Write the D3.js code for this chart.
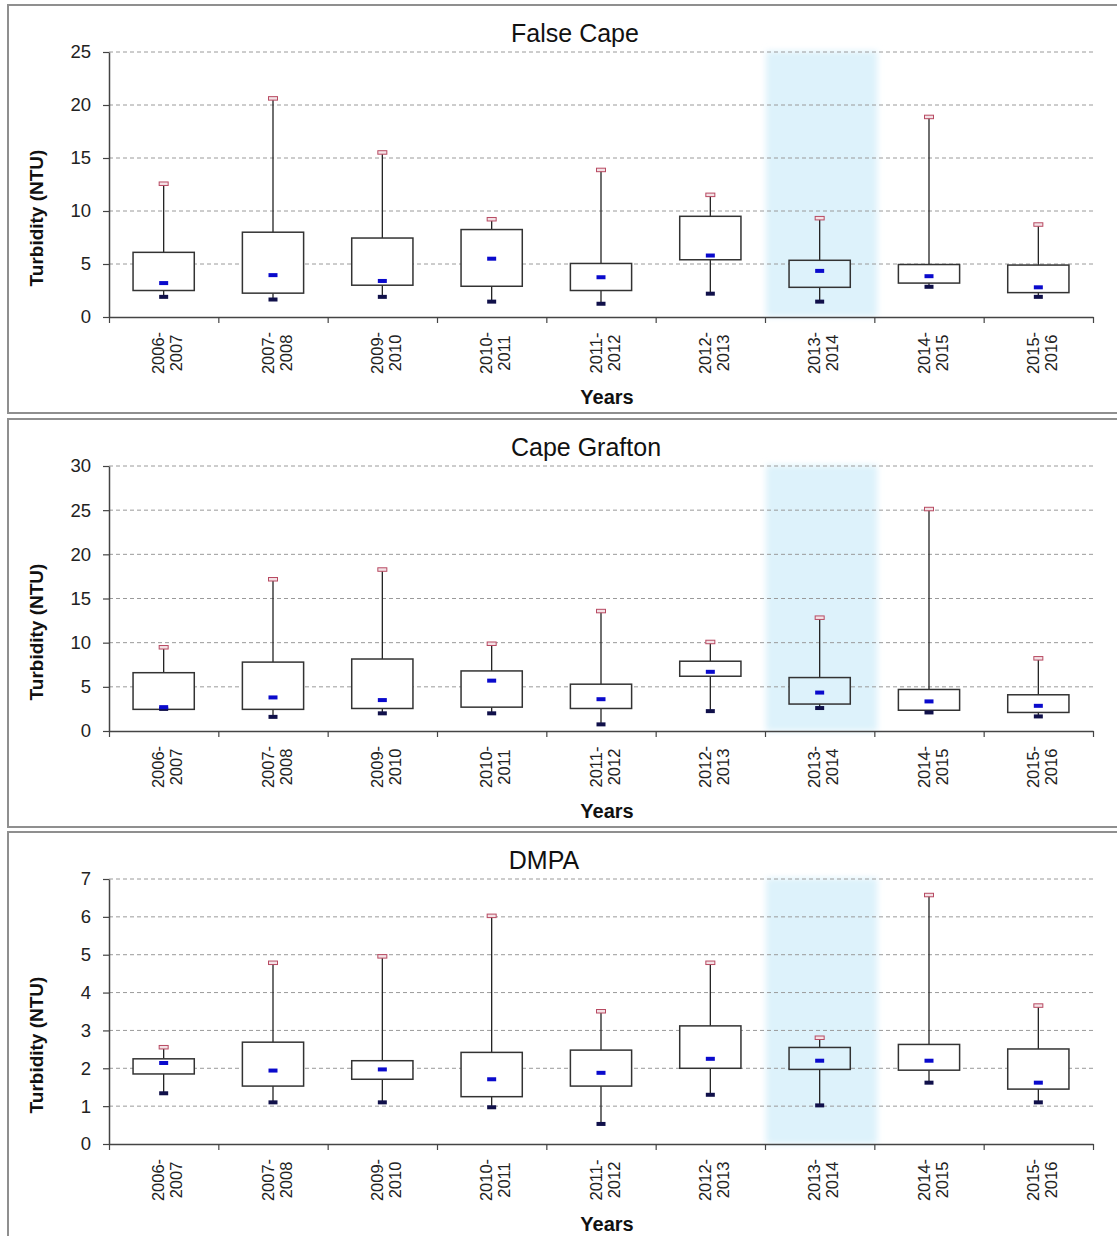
<!DOCTYPE html>
<html><head><meta charset="utf-8">
<script src="https://cdn.jsdelivr.net/npm/d3@7"></script>
<style>body{margin:0;background:#fff;} svg{display:block;font-family:Arial,"Liberation Sans",sans-serif;}</style>
</head><body><svg id="c" width="1117" height="1236"></svg>
<script>
const categories = ["2006-2007","2007-2008","2009-2010","2010-2011","2011-2012","2012-2013","2013-2014","2014-2015","2015-2016"];
const highlightCategory = "2013-2014";
const panelTitles = ["False Cape","Cape Grafton","DMPA"];
const yAxisLabel = "Turbidity (NTU)";
const xAxisLabel = "Years";

const falseCapeMax    = [12.55,20.6,15.5,9.2,13.85,11.5,9.3,18.85,8.7];
const falseCapeQ3     = [6.1,8.0,7.45,8.25,5.05,9.5,5.35,4.95,4.9];
const falseCapeMedian = [3.2,3.95,3.4,5.5,3.75,5.8,4.35,3.85,2.8];
const falseCapeQ1     = [2.5,2.25,3.0,2.9,2.5,5.4,2.8,3.2,2.3];
const falseCapeMin    = [1.9,1.65,1.9,1.45,1.25,2.2,1.45,2.85,1.9];

const capeGraftonMax    = [9.45,17.15,18.25,9.85,13.55,10.05,12.8,25.1,8.2];
const capeGraftonQ3     = [6.6,7.8,8.15,6.8,5.3,7.9,6.05,4.7,4.1];
const capeGraftonMedian = [2.7,3.8,3.5,5.7,3.6,6.7,4.35,3.35,2.85];
const capeGraftonQ1     = [2.45,2.45,2.55,2.7,2.55,6.2,3.05,2.35,2.1];
const capeGraftonMin    = [2.5,1.6,2.0,2.0,0.75,2.25,2.6,2.1,1.65];

const dmpaMax    = [2.55,4.78,4.95,6.02,3.5,4.78,2.8,6.57,3.65];
const dmpaQ3     = [2.25,2.69,2.2,2.42,2.48,3.12,2.55,2.63,2.51];
const dmpaMedian = [2.14,1.94,1.97,1.71,1.88,2.25,2.2,2.2,1.62];
const dmpaQ1     = [1.85,1.53,1.71,1.25,1.53,2.0,1.97,1.95,1.45];
const dmpaMin    = [1.34,1.1,1.1,0.97,0.53,1.3,1.02,1.62,1.1];

const falseCapeTicks   = [0,5,10,15,20,25];
const capeGraftonTicks = [0,5,10,15,20,25,30];
const dmpaTicks        = [0,1,2,3,4,5,6,7];

const panels = [
  {title: panelTitles[0], max: falseCapeMax, q3: falseCapeQ3, med: falseCapeMedian, q1: falseCapeQ1, min: falseCapeMin, ticks: falseCapeTicks},
  {title: panelTitles[1], max: capeGraftonMax, q3: capeGraftonQ3, med: capeGraftonMedian, q1: capeGraftonQ1, min: capeGraftonMin, ticks: capeGraftonTicks},
  {title: panelTitles[2], max: dmpaMax, q3: dmpaQ3, med: dmpaMedian, q1: dmpaQ1, min: dmpaMin, ticks: dmpaTicks}
];

// layout
const panelTops = [5, 419, 832];
const titleX = [575, 586, 544];
const plotLeft = 109, plotRight = 1093, plotTopOff = 47, plotBottomOff = 312;
const bandColor = "#ddf2fb";

const svg = d3.select("#c");
const defs = svg.append("defs");
defs.append("filter").attr("id","blur").attr("x","-20%").attr("width","140%")
  .append("feGaussianBlur").attr("stdDeviation", 3);

const x = d3.scaleBand().domain(categories).range([plotLeft, plotRight]).padding(0);
const xEdges = d3.scaleLinear().domain([0, categories.length]).range([plotLeft, plotRight]);

panels.forEach((p, pi) => {
  const top = panelTops[pi];
  const g = svg.append("g");
  const y0 = top + plotBottomOff, y1 = top + plotTopOff;
  const y = d3.scaleLinear().domain([0, d3.max(p.ticks)]).range([y0, y1]);

  // panel frame
  g.append("rect").attr("x", 8).attr("y", top).attr("width", 1130).attr("height", 408)
    .attr("fill", "#fff").attr("stroke", "#8f8f8f").attr("stroke-width", 2);

  // highlight band
  g.append("rect")
    .attr("x", x(highlightCategory) + 1).attr("width", x.bandwidth() + 2)
    .attr("y", y1 - 1).attr("height", y0 - y1 + 1)
    .attr("fill", bandColor).attr("filter", "url(#blur)");

  // gridlines
  g.append("g").selectAll("line").data(p.ticks.filter(t => t > 0)).join("line")
    .attr("x1", plotLeft).attr("x2", plotRight)
    .attr("y1", d => y(d)).attr("y2", d => y(d))
    .attr("stroke", "#9a9a9a").attr("stroke-width", 1).attr("stroke-dasharray", "4,3");

  // title
  g.append("text").attr("x", titleX[pi]).attr("y", top + 37).attr("text-anchor", "middle")
    .attr("font-size", 25).attr("fill", "#111").text(p.title);

  // y axis
  const ya = g.append("g").attr("transform", `translate(${plotLeft},0)`)
    .call(d3.axisLeft(y).tickValues(p.ticks).tickSize(6).tickSizeOuter(0).tickPadding(12).tickFormat(d3.format("d")));
  ya.select(".domain").attr("stroke", "#444").attr("stroke-width", 1.5);
  ya.selectAll(".tick line").attr("stroke", "#444").attr("stroke-width", 1.2);
  ya.selectAll(".tick text").attr("font-size", 18.5).attr("fill", "#222").attr("font-family", "Arial, 'Liberation Sans', sans-serif");

  // x axis
  const xa = g.append("g").attr("transform", `translate(0,${y0})`)
    .call(d3.axisBottom(xEdges).tickValues(d3.range(categories.length + 1)).tickSize(6).tickSizeOuter(0).tickFormat(""));
  xa.select(".domain").attr("stroke", "#444").attr("stroke-width", 1.5);
  xa.selectAll(".tick line").attr("stroke", "#444").attr("stroke-width", 1.2);

  // x labels (rotated, two lines)
  const lbl = g.append("g").selectAll("text").data(categories).join("text")
    .attr("transform", d => `translate(${x(d) + x.bandwidth()/2},${top + 348}) rotate(-90)`)
    .attr("text-anchor", "middle").attr("font-size", 16.5).attr("fill", "#222");
  lbl.append("tspan").attr("x", 0).attr("y", 0.5).text(d => d.split("-")[0] + "-");
  lbl.append("tspan").attr("x", 0).attr("y", 18.5).text(d => d.split("-")[1]);

  // axis titles
  g.append("text").attr("transform", `translate(43,${top + 213}) rotate(-90)`)
    .attr("text-anchor", "middle").attr("font-size", 19).attr("font-weight", "bold").attr("fill", "#111")
    .text(yAxisLabel);
  g.append("text").attr("x", 607).attr("y", top + 399).attr("text-anchor", "middle")
    .attr("font-size", 20).attr("font-weight", "bold").attr("fill", "#111").text(xAxisLabel);

  // box plots
  const rows = categories.map((c, i) => ({c, max: p.max[i], q3: p.q3[i], med: p.med[i], q1: p.q1[i], min: p.min[i]}));
  const bw = x.bandwidth() * 0.56;
  const cx = d => x(d.c) + x.bandwidth()/2;
  const boxes = g.append("g").selectAll("g").data(rows).join("g");
  boxes.append("line").attr("x1", cx).attr("x2", cx).attr("y1", d => y(d.q3)).attr("y2", d => y(d.max))
    .attr("stroke", "#222").attr("stroke-width", 1.3);
  boxes.append("line").attr("x1", cx).attr("x2", cx).attr("y1", d => y(d.q1)).attr("y2", d => y(d.min))
    .attr("stroke", "#222").attr("stroke-width", 1.3);
  boxes.append("rect").attr("x", d => cx(d) - bw/2).attr("width", bw)
    .attr("y", d => y(d.q3)).attr("height", d => y(d.q1) - y(d.q3))
    .attr("fill", d => d.c === highlightCategory ? bandColor : "#fff")
    .attr("stroke", "#333").attr("stroke-width", 1.5);
  // min marker
  boxes.append("rect").attr("x", d => cx(d) - 4.5).attr("width", 9)
    .attr("y", d => y(d.min) - 2).attr("height", 4).attr("fill", "#10104a");
  // max marker
  boxes.append("rect").attr("x", d => cx(d) - 4.5).attr("width", 9)
    .attr("y", d => y(d.max) - 2).attr("height", 3.5).attr("fill", "#f3e2e6")
    .attr("stroke", "#b84a62").attr("stroke-width", 1);
  // median marker
  boxes.append("rect").attr("x", d => cx(d) - 4.5).attr("width", 9)
    .attr("y", d => y(d.med) - 2).attr("height", 4).attr("fill", "#0a0acc");
});
</script></body></html>
